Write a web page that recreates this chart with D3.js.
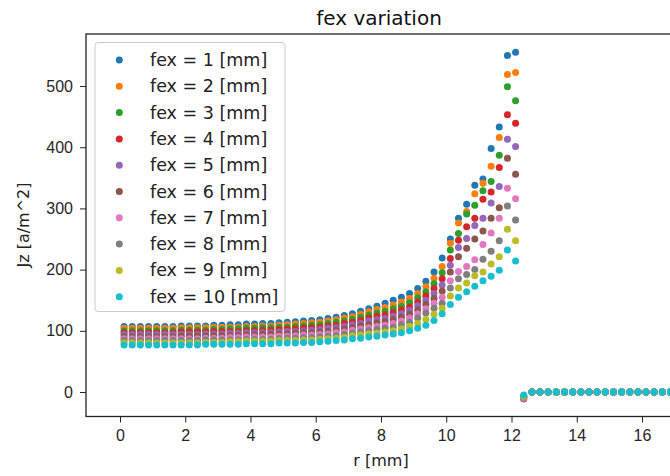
<!DOCTYPE html>
<html>
<head>
<meta charset="utf-8">
<script src="https://cdn.jsdelivr.net/npm/d3@7"></script>
<style>
  body { margin: 0; background: #fff; }
  svg { font-family: "DejaVu Sans", sans-serif; }
  .axis path, .axis line { stroke: #222; }
  .axis text { fill: #262626; font-size: 16px; }
</style>
</head>
<body>
<div id="chart"></div>
<script>
// radius r [mm], one sample every 0.25 mm
var rValues = [
  0.125, 0.375, 0.625, 0.875, 1.125, 1.375, 1.625, 1.875, 2.125, 2.375,
  2.625, 2.875, 3.125, 3.375, 3.625, 3.875, 4.125, 4.375, 4.625, 4.875,
  5.125, 5.375, 5.625, 5.875, 6.125, 6.375, 6.625, 6.875, 7.125, 7.375,
  7.625, 7.875, 8.125, 8.375, 8.625, 8.875, 9.125, 9.375, 9.625, 9.875,
  10.125, 10.375, 10.625, 10.875, 11.125, 11.375, 11.625, 11.875, 12.125, 12.375,
  12.625, 12.875, 13.125, 13.375, 13.625, 13.875, 14.125, 14.375, 14.625, 14.875,
  15.125, 15.375, 15.625, 15.875, 16.125, 16.375, 16.625, 16.875
];

// Jz [a/m^2] for each fex
var jzFex1 = [107,107,107,107,107,107,107,108,108,108,108,109,109,110,110,111,111,112,112,113,114,115,116,117,118,120,122,125,128,132,136,140,145,
  150,155,161,169,181,196,219,250,284,307,338,348,398,433,550,555, -6,
  0,0,0,0,0,0,0,0,0,0,0,0,0,0,0,0,0,0];
var jzFex2 = [104,104,104,104,104,104,104,105,105,105,105,106,106,106,106,107,107,108,108,109,110,111,112,113,114,116,118,121,123,127,131,135,138,
  142,147,153,161,172,186,205,243,276,295,324,341,369,416,519,522, -7,
  0,0,0,0,0,0,0,0,0,0,0,0,0,0,0,0,0,0];
var jzFex3 = [100,100,100,100,100,100,100,101,101,101,101,102,102,103,103,104,104,105,105,106,106,107,108,109,110,112,114,116,119,122,126,129,132,
  136,140,146,154,164,177,195,232,259,291,305,329,344,387,499,476, -8,
  0,0,0,0,0,0,0,0,0,0,0,0,0,0,0,0,0,0];
var jzFex4 = [97,97,97,97,97,97,97,98,98,98,98,99,99,99,99,100,100,101,101,102,103,103,104,105,106,108,109,112,114,117,121,124,126,
  130,134,139,147,157,169,185,218,248,270,284,315,327,367,453,439, -9,
  0,0,0,0,0,0,0,0,0,0,0,0,0,0,0,0,0,0];
var jzFex5 = [94,94,94,94,94,94,94,94,94,94,95,95,95,96,96,97,97,97,97,98,99,99,100,101,102,104,105,107,110,112,116,118,120,
  124,128,133,141,150,161,175,207,236,251,272,284,309,336,413,401, -10,
  0,0,0,0,0,0,0,0,0,0,0,0,0,0,0,0,0,0];
var jzFex6 = [90,90,90,90,90,90,90,91,91,91,91,92,92,92,92,93,93,94,94,95,95,96,97,97,98,99,101,103,105,108,110,113,115,
  118,122,127,134,143,153,165,196,221,235,250,263,284,301,382,356, -11.5,
  0,0,0,0,0,0,0,0,0,0,0,0,0,0,0,0,0,0];
var jzFex7 = [87,87,87,87,87,87,87,87,87,87,88,88,88,89,89,90,90,90,90,91,91,92,93,93,94,95,97,98,101,103,105,107,109,
  112,116,121,128,136,145,155,182,197,205,216,241,260,284,333,316, -10,
  0,0,0,0,0,0,0,0,0,0,0,0,0,0,0,0,0,0];
var jzFex8 = [84,84,84,84,84,84,84,84,84,84,85,85,85,85,85,86,86,86,86,87,88,88,89,89,90,91,92,94,96,98,100,102,104,
  106,110,114,121,129,137,145,170,185,192,200,217,230,247,304,281, -8,
  0,0,0,0,0,0,0,0,0,0,0,0,0,0,0,0,0,0];
var jzFex9 = [80,80,80,80,80,80,80,80,80,80,81,81,81,82,82,83,83,83,83,84,84,84,85,85,86,87,88,89,92,93,95,96,98,
  100,103,107,112,119,127,137,157,170,178,190,196,209,221,266,247, -7,
  0,0,0,0,0,0,0,0,0,0,0,0,0,0,0,0,0,0];
var jzFex10 = [77,77,77,77,77,77,77,77,77,77,78,78,78,78,78,79,79,79,79,80,80,80,81,81,82,83,84,85,87,88,90,91,93,
  95,97,100,104,109,117,128,143,155,164,173,182,189,199,232,214, -5,
  0,0,0,0,0,0,0,0,0,0,0,0,0,0,0,0,0,0];

var seriesNames = ['fex = 1 [mm]', 'fex = 2 [mm]', 'fex = 3 [mm]', 'fex = 4 [mm]', 'fex = 5 [mm]',
                   'fex = 6 [mm]', 'fex = 7 [mm]', 'fex = 8 [mm]', 'fex = 9 [mm]', 'fex = 10 [mm]'];
var seriesValues = [jzFex1, jzFex2, jzFex3, jzFex4, jzFex5, jzFex6, jzFex7, jzFex8, jzFex9, jzFex10];
var seriesColors = ['#1f77b4', '#ff7f0e', '#2ca02c', '#d62728', '#9467bd',
                    '#8c564b', '#e377c2', '#7f7f7f', '#bcbd22', '#17becf'];

var xTicks = [0, 2, 4, 6, 8, 10, 12, 14, 16];
var yTicks = [0, 100, 200, 300, 400, 500];

var W = 670, H = 476;
var plot = { left: 86, top: 34, right: 673, bottom: 416.5 };

var svg = d3.select('#chart').append('svg')
    .attr('width', W)
    .attr('height', H);

var x = d3.scaleLinear().domain([-1.042, 16.95]).range([plot.left, plot.right]);
var y = d3.scaleLinear().domain([-40, 585]).range([plot.bottom, plot.top]);

svg.append('clipPath').attr('id', 'plot-clip')
  .append('rect')
    .attr('x', plot.left).attr('y', plot.top)
    .attr('width', plot.right - plot.left)
    .attr('height', plot.bottom - plot.top);

// points, fex = 1 first so fex = 10 ends on top
var pts = svg.append('g').attr('clip-path', 'url(#plot-clip)');
seriesValues.forEach(function(vals, i) {
    pts.append('g')
        .attr('fill', seriesColors[i])
      .selectAll('circle')
      .data(vals)
      .join('circle')
        .attr('cx', function(d, j) { return x(rValues[j]); })
        .attr('cy', function(d) { return y(d); })
        .attr('r', 3.5);
});

// axes
svg.append('g')
    .attr('class', 'axis')
    .attr('transform', 'translate(0,' + plot.bottom + ')')
    .call(d3.axisBottom(x).tickValues(xTicks).tickSize(6).tickPadding(7).tickSizeOuter(0))
    .call(function(g) { g.select('.domain').remove(); });

svg.append('g')
    .attr('class', 'axis')
    .attr('transform', 'translate(' + plot.left + ',0)')
    .call(d3.axisLeft(y).tickValues(yTicks).tickSize(6).tickPadding(7).tickSizeOuter(0))
    .call(function(g) { g.select('.domain').remove(); });

// spines
svg.append('rect')
    .attr('x', plot.left).attr('y', plot.top)
    .attr('width', plot.right - plot.left)
    .attr('height', plot.bottom - plot.top)
    .attr('fill', 'none')
    .attr('stroke', '#222')
    .attr('stroke-width', 1.3);

// title and labels
svg.append('text')
    .attr('x', 379).attr('y', 25)
    .attr('text-anchor', 'middle')
    .style('font-size', '20px')
    .attr('fill', '#111')
    .text('fex variation');

svg.append('text')
    .attr('x', 381).attr('y', 466)
    .attr('text-anchor', 'middle')
    .style('font-size', '16px')
    .attr('fill', '#222')
    .text('r [mm]');

svg.append('text')
    .attr('transform', 'translate(28.5,225) rotate(-90)')
    .attr('text-anchor', 'middle')
    .style('font-size', '16px')
    .attr('fill', '#222')
    .text('Jz [a/m^2]');

// legend
var legend = svg.append('g');
legend.append('rect')
    .attr('x', 95).attr('y', 42.5)
    .attr('width', 190).attr('height', 269)
    .attr('rx', 3)
    .attr('fill', 'rgba(255,255,255,0.8)')
    .attr('stroke', '#cccccc');

var rows = legend.selectAll('g.row')
    .data(seriesNames)
    .join('g')
    .attr('class', 'row')
    .attr('transform', function(d, i) { return 'translate(0,' + (60 + i * 26.3) + ')'; });

rows.append('circle')
    .attr('cx', 119.3).attr('cy', 0)
    .attr('r', 3.5)
    .attr('fill', function(d, i) { return seriesColors[i]; });

rows.append('text')
    .attr('x', 150).attr('y', 6)
    .style('font-size', '17.5px')
    .attr('fill', '#222')
    .text(function(d) { return d; });
</script>
</body>
</html>
